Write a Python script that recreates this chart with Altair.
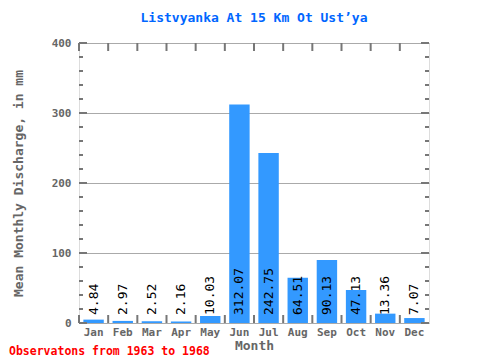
import altair as alt
import pandas as pd

months = ["Jan", "Feb", "Mar", "Apr", "May", "Jun", "Jul", "Aug", "Sep", "Oct", "Nov", "Dec"]
values = [4.84, 2.97, 2.52, 2.16, 10.03, 312.07, 242.75, 64.51, 90.13, 47.13, 13.36, 7.07]
y_labels = [0, 100, 200, 300, 400]
minor_ticks = [20, 40, 60, 80, 120, 140, 160, 180, 220, 240, 260, 280, 320, 340, 360, 380]

df = pd.DataFrame({"month": months, "value": values})
df["label"] = [f"{v:.2f}" for v in values]
df["base"] = 0

FONT = "DejaVu Sans Mono"
GREY = "#777777"
TXT = "#666666"

xenc = alt.X("month:N", sort=months,
             scale=alt.Scale(paddingInner=0, paddingOuter=0),
             axis=alt.Axis(title="Month", labelAngle=0, ticks=False, domain=False,
                           labelFont=FONT, labelFontWeight="bold", labelFontSize=11,
                           labelColor=TXT, labelPadding=3,
                           titleFont=FONT, titleFontWeight="bold", titleFontSize=13,
                           titleColor=TXT, titlePadding=2))
yscale = alt.Scale(domain=[0, 400], nice=False)

bars = alt.Chart(df).mark_bar(color="#3399ff", width=alt.RelativeBandSize(0.7)).encode(
    x=xenc,
    y=alt.Y("value:Q", scale=yscale,
            axis=alt.Axis(title="Mean Monthly Discharge, in mm", values=y_labels,
                          ticks=False, domain=False, grid=True, gridColor="#aaaaaa",
                          gridWidth=1, labelFont=FONT, labelFontWeight="bold",
                          labelFontSize=11, labelColor=TXT, labelPadding=8,
                          titleFont=FONT, titleFontWeight="bold", titleFontSize=13,
                          titleColor=TXT, titlePadding=26)),
)

labels = alt.Chart(df).mark_text(angle=270, align="left", baseline="middle", dx=8,
                                  font=FONT, fontSize=13, color="black").encode(
    x=alt.X("month:N", sort=months),
    y=alt.Y("base:Q", scale=yscale),
    text="label:N",
)

xt = alt.X("month:N", sort=months, bandPosition=0)
top_ticks = alt.Chart(df).mark_rule(color=GREY, strokeWidth=2).encode(
    x=xt, y=alt.value(0), y2=alt.value(8))
bot_ticks = alt.Chart(df).mark_rule(color=GREY, strokeWidth=2).encode(
    x=xt, y=alt.value(272), y2=alt.value(280))

maj = pd.DataFrame({"t": y_labels})
mnr = pd.DataFrame({"t": minor_ticks})
yt = alt.Y("t:Q", scale=yscale)
lmaj = alt.Chart(maj).mark_rule(color=GREY, strokeWidth=2).encode(y=yt, x=alt.value(0), x2=alt.value(8))
rmaj = alt.Chart(maj).mark_rule(color=GREY, strokeWidth=2).encode(y=yt, x=alt.value(342), x2=alt.value(350))
lmin = alt.Chart(mnr).mark_rule(color=GREY, strokeWidth=2).encode(y=yt, x=alt.value(0), x2=alt.value(4))
rmin = alt.Chart(mnr).mark_rule(color=GREY, strokeWidth=2).encode(y=yt, x=alt.value(346), x2=alt.value(350))

footer = alt.Chart(alt.Data(values=[{}])).mark_text(
    align="left", baseline="middle", font=FONT, fontSize=11.5, fontWeight="bold",
    color="#ff0000").encode(
    x=alt.value(-70), y=alt.value(309),
    text=alt.value("Observatons from 1963 to 1968"))

chart = alt.layer(bars, labels, top_ticks, bot_ticks, lmaj, rmaj, lmin, rmin, footer).properties(
    width=350, height=280,
    title=alt.TitleParams("Listvyanka At 15 Km Ot Ust\u2019ya", font=FONT, fontSize=13,
                          fontWeight="bold", color="#0066ff", anchor="middle", offset=12),
    autosize=alt.AutoSizeParams(type="none"),
    padding={"left": 71, "top": 35, "right": 43, "bottom": 37},
).configure_view(stroke=GREY, strokeWidth=2).configure(background="white")

chart.save("out.html", embed_options={"renderer": "svg", "actions": False})
